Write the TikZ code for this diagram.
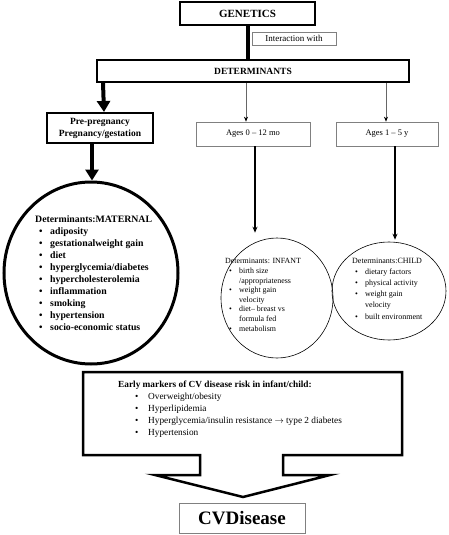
\documentclass[tikz,border=0pt]{standalone}
\usepackage{fontspec}
\setmainfont{Liberation Serif}
\usetikzlibrary{shapes.geometric,arrows.meta,calc}
\newcommand{\fs}[2]{\fontsize{#1}{#2}\selectfont}
\newcommand{\bi}{\makebox[15pt][l]{\hspace{4pt}\textbullet}}
\newcommand{\bj}{\makebox[14pt][l]{\hspace{4pt}\textbullet}}
\begin{document}
\begin{tikzpicture}[x=1pt,y=-1pt,
  thickbox/.style={draw,line width=2pt,inner sep=0pt},
  thinbox/.style={draw=gray,line width=0.7pt,inner sep=0pt},
  bigarrow/.style={line width=4pt,-{Triangle[width=13pt,length=11pt]}},
  thinarrow/.style={line width=0.6pt,draw=gray!80!black,-{Stealth[width=4pt,length=5pt,black]}},
  midarrow/.style={line width=1.6pt,-{Stealth[width=5pt,length=6pt]}},
  listtext/.style={anchor=base west,align=left,inner sep=0pt}]
\useasboundingbox (0,0) rectangle (448,535);
% top
\node[thickbox,minimum width=135pt,minimum height=23pt,font=\fs{11}{13}\bfseries] (gen) at (247.5,13.5) {GENETICS};
\node[thinbox,minimum width=84pt,minimum height=13pt,font=\fs{9}{11}] (inter) at (294,38.5) {Interaction with};
\node[thickbox,minimum width=312pt,minimum height=22pt,font=\fs{9.5}{11}\bfseries] (det) at (253,71) {DETERMINANTS};
\draw[line width=4pt] (gen.south) -- (gen.south |- det.north);
% left branch
\node[thickbox,minimum width=106pt,minimum height=30pt,align=center,font=\fs{9.5}{12}\bfseries] (pre) at (100,128) {Pre-pregnancy\\Pregnancy/gestation};
\draw[bigarrow] ([xshift=7pt]det.south west) -- ([xshift=4pt]pre.north);
\node[ellipse,draw,line width=3pt,minimum width=174pt,minimum height=182pt,inner sep=0pt] (mat) at (91,273) {};
\draw[bigarrow] ([xshift=-8pt]pre.south) -- ([xshift=1pt]mat.north);
\node[listtext,font=\fs{9.8}{12}\bfseries] (matt) at (35,330) {Determinants:MATERNAL\\
\bi adiposity\\
\bi gestationalweight gain\\
\bi diet\\
\bi hyperglycemia/diabetes\\
\bi hypercholesterolemia\\
\bi inflammation\\
\bi smoking\\
\bi hypertension\\
\bi socio-economic status};
% ages
\node[thinbox,minimum width=114pt,minimum height=24pt,font=\fs{8.5}{10}] (a0) at (253,134) {Ages 0 -- 12 mo};
\node[thinbox,minimum width=102pt,minimum height=24pt,font=\fs{8.5}{10}] (a1) at (387,134) {Ages 1 -- 5 y};
\draw[thinarrow] (det.south -| 246,0) -- (a0.north -| 246,0);
\draw[thinarrow] (det.south -| 386,0) -- (a1.north -| 386,0);
\node[ellipse,draw,line width=0.6pt,minimum width=112pt,minimum height=120pt,inner sep=0pt] (inf) at (277,298) {};
\node[ellipse,draw,line width=0.6pt,minimum width=114pt,minimum height=98pt,inner sep=0pt] (chi) at (389,291) {};
\draw[midarrow] (a0.south -| 255,0) -- ($(inf.north -| 255,0)+(0,-5)$);
\draw[midarrow] (a1.south -| 395,0) -- ($(chi.north -| 395,0)+(0,-2)$);
\node[listtext,font=\fs{7.9}{9.6}] (inft) at (225,331) {Determinants: INFANT\\
\bj birth size\\
\hspace{14pt}/appropriateness\\
\bj weight gain\\
\hspace{14pt}velocity\\
\bj diet-- breast vs\\
\hspace{14pt}formula fed\\
\bj metabolism};
\node[listtext,font=\fs{8}{11.2}] (chit) at (352,319) {Determinants:CHILD\\
\makebox[13pt][l]{\hspace{3pt}\textbullet}dietary factors\\
\makebox[13pt][l]{\hspace{3pt}\textbullet}physical activity\\
\makebox[13pt][l]{\hspace{3pt}\textbullet}weight gain\\
\hspace{13pt}velocity\\
\makebox[13pt][l]{\hspace{3pt}\textbullet}built environment};
% early markers + big arrow
\draw[line width=2.5pt,line join=miter]
  (83,372) -- (402,372) -- (402,455) -- (283,455) -- (283,475) -- (330,475)
  -- (243,497) -- (155,475) -- (200,475) -- (200,455) -- (83,455) -- cycle;
\node[listtext,font=\fs{9.3}{12}\bfseries] (emh) at (118,387) {Early markers of CV disease risk in infant/child:};
\node[listtext,font=\fs{9.3}{11.8}] (emt) at (132,435) {%
\makebox[16pt][l]{\hspace{3pt}\textbullet}Overweight/obesity\\
\makebox[16pt][l]{\hspace{3pt}\textbullet}Hyperlipidemia\\
\makebox[16pt][l]{\hspace{3pt}\textbullet}Hyperglycemia/insulin resistance $\rightarrow$ type 2 diabetes\\
\makebox[16pt][l]{\hspace{3pt}\textbullet}Hypertension};
\node[thinbox,minimum width=126pt,minimum height=30pt,font=\fs{19}{22}\bfseries] (cvd) at (242,518) {CVDisease};
\end{tikzpicture}
\end{document}
